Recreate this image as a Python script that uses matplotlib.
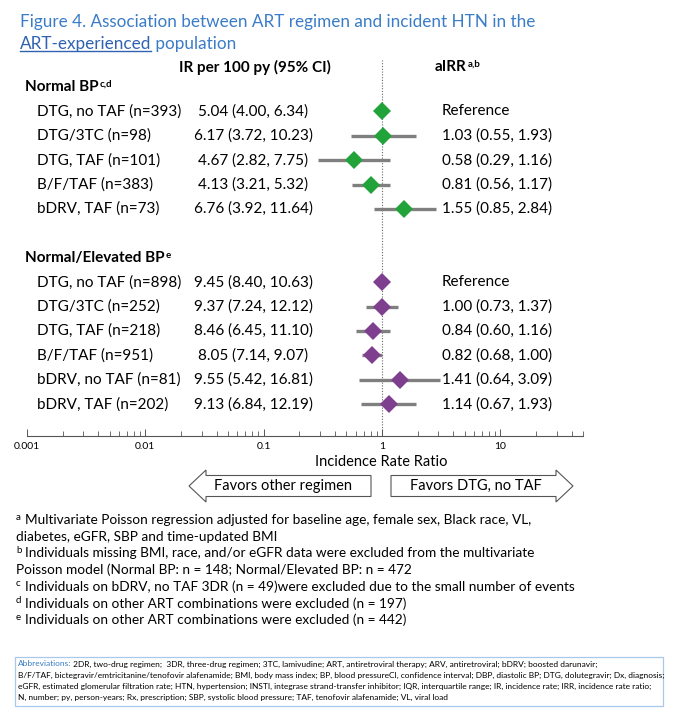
import matplotlib
matplotlib.use("Agg")
import matplotlib.pyplot as plt
from matplotlib.patches import Polygon, Rectangle
from matplotlib.lines import Line2D

plt.rcParams['font.family'] = ['Lato', 'DejaVu Sans']

# ---- data ----
normal_labels = ["DTG, no TAF (n=393)", "DTG/3TC (n=98)", "DTG, TAF (n=101)",
                 "B/F/TAF (n=383)", "bDRV, TAF (n=73)"]
normal_ir = ["5.04 (4.00, 6.34)", "6.17 (3.72, 10.23)", "4.67 (2.82, 7.75)",
             "4.13 (3.21, 5.32)", "6.76 (3.92, 11.64)"]
normal_irr = [1.00, 1.03, 0.58, 0.81, 1.55]
normal_lo = [None, 0.55, 0.29, 0.56, 0.85]
normal_hi = [None, 1.93, 1.16, 1.17, 2.84]

elev_labels = ["DTG, no TAF (n=898)", "DTG/3TC (n=252)", "DTG, TAF (n=218)",
               "B/F/TAF (n=951)", "bDRV, no TAF (n=81)", "bDRV, TAF (n=202)"]
elev_ir = ["9.45 (8.40, 10.63)", "9.37 (7.24, 12.12)", "8.46 (6.45, 11.10)",
           "8.05 (7.14, 9.07)", "9.55 (5.42, 16.81)", "9.13 (6.84, 12.19)"]
elev_irr = [1.00, 1.00, 0.84, 0.82, 1.41, 1.14]
elev_lo = [None, 0.73, 0.60, 0.68, 0.64, 0.67]
elev_hi = [None, 1.37, 1.16, 1.00, 3.09, 1.93]

ticks = [0.001, 0.01, 0.1, 1, 10]
tick_labels = ["0.001", "0.01", "0.1", "1", "10"]

footnotes = [
    ("a", "Multivariate Poisson regression adjusted for baseline age, female sex, Black race, VL,"),
    ("", "diabetes, eGFR, SBP and time-updated BMI"),
    ("b", "Individuals missing BMI, race, and/or eGFR data were excluded from the multivariate"),
    ("", "Poisson model (Normal BP: n = 148; Normal/Elevated BP: n = 472"),
    ("c", "Individuals on bDRV, no TAF 3DR (n = 49)were excluded due to the small number of events"),
    ("d", "Individuals on other ART combinations were excluded (n = 197)"),
    ("e", "Individuals on other ART combinations were excluded (n = 442)"),
]

abbrev_lines = [
    "2DR, two-drug regimen;  3DR, three-drug regimen; 3TC, lamivudine; ART, antiretroviral therapy; ARV, antiretroviral; bDRV; boosted darunavir;",
    "B/F/TAF, bictegravir/emtricitanine/tenofovir alafenamide; BMI, body mass index; BP, blood pressureCI, confidence interval; DBP, diastolic BP; DTG, dolutegravir; Dx, diagnosis;",
    "eGFR, estimated glomerular filtration rate; HTN, hypertension; INSTI, integrase strand-transfer inhibitor; IQR, interquartile range; IR, incidence rate; IRR, incidence rate ratio;",
    "N, number; py, person-years; Rx, prescription; SBP, systolic blood pressure; TAF, tenofovir alafenamide; VL, viral load",
]

GREEN = "#22a33a"
PURPLE = "#7e3f8f"
GREY = "#7f7f7f"
BLUE = "#3a7cc7"

W, H = 693, 713
fig = plt.figure(figsize=(W / 100, H / 100), dpi=100)


def fx(x):
    return x / W


def fy(y):
    return 1 - y / H


def ptext(x, y, s, **kw):
    kw.setdefault("va", "center")
    return fig.text(fx(x), fy(y), s, **kw)


# axis area in pixel units (y counted from the top)
ax_left, ax_right, ax_top, ax_bot = 27, 583, 60, 436
ax = fig.add_axes([fx(ax_left), fy(ax_bot), fx(ax_right - ax_left), (ax_bot - ax_top) / H])
ax.set_xscale("log")
ax.set_xlim(0.001, 50)
ax.set_ylim(ax_bot, ax_top)
for s in ["top", "left", "right"]:
    ax.spines[s].set_visible(False)
ax.spines["bottom"].set_color("#555555")
ax.spines["bottom"].set_linewidth(0.8)
ax.set_yticks([])
ax.set_xticks(ticks)
ax.set_xticklabels(tick_labels, fontsize=7.5)
ax.tick_params(axis="x", which="major", direction="in", length=5, width=0.7, color="#555555", pad=4)
ax.tick_params(axis="x", which="minor", direction="in", length=3.5, width=0.6, color="#555555")
ax.patch.set_alpha(0)
ax.axvline(1, ls=(0, (1, 1.5)), color="#666666", lw=0.8, zorder=1)

row0, step = 87, 24.4
groups = [
    ("Normal BP", "c,d", 0, normal_labels, normal_ir, normal_irr, normal_lo, normal_hi, GREEN),
    ("Normal/Elevated BP", "e", 7, elev_labels, elev_ir, elev_irr, elev_lo, elev_hi, PURPLE),
]
fs = 11
for title, sup, slot, labels, irs, irr, lo, hi, col in groups:
    yh = row0 + slot * step
    t = ptext(25, yh, title, fontsize=fs, fontweight="bold")
    ax.annotate(sup, xy=(1, 1), xycoords=t, xytext=(0.5, 0), textcoords="offset points",
                fontsize=7, fontweight="bold", va="top", ha="left")
    ys = [yh + (i + 1) * step for i in range(len(labels))]
    for i, y in enumerate(ys):
        ptext(37, y, labels[i], fontsize=fs)
        ptext(253, y, irs[i], fontsize=fs, ha="center")
        if lo[i] is None:
            ptext(442, y, "Reference", fontsize=fs)
        else:
            ptext(442, y, f"{irr[i]:.2f} ({lo[i]:.2f}, {hi[i]:.2f})", fontsize=fs)
            ax.hlines(y, lo[i], hi[i], color=GREY, lw=2.4, zorder=2)
    ax.plot(irr, ys, "D", color=col, markersize=9.5, markeredgewidth=0, zorder=3)

# column headers
ptext(255, 67, "IR per 100 py (95% CI)", fontsize=11, fontweight="bold", ha="center")
h2 = ptext(435, 67, "aIRR", fontsize=11, fontweight="bold")
ax.annotate("a,b", xy=(1, 1), xycoords=h2, xytext=(0.5, 0), textcoords="offset points",
            fontsize=7, fontweight="bold", va="top", ha="left")

ptext(381, 462, "Incidence Rate Ratio", fontsize=10.5, ha="center")

# title
ptext(20, 22, "Figure 4. Association between ART regimen and incident HTN in the",
      fontsize=12.3, color=BLUE)
t2 = ptext(20, 44, "ART-experienced", fontsize=12.3, color="#2f62b0")
ax.annotate(" population", xy=(1, 0.5), xycoords=t2, fontsize=12.3, color=BLUE,
            va="center", ha="left")
fig.canvas.draw()
bb = t2.get_window_extent(fig.canvas.get_renderer())
fig.add_artist(Line2D([bb.x0 / W, bb.x1 / W], [(bb.y0 + 1) / H, (bb.y0 + 1) / H],
                      transform=fig.transFigure, color="#2f62b0", lw=1.0))

# favour arrows
yc, hb, hh = 486, 10.5, 16
left_pts = [(189, yc), (206, yc - hh), (206, yc - hb), (371, yc - hb),
            (371, yc + hb), (206, yc + hb), (206, yc + hh)]
right_pts = [(573, yc), (556, yc - hh), (556, yc - hb), (391, yc - hb),
             (391, yc + hb), (556, yc + hb), (556, yc + hh)]
for pts in (left_pts, right_pts):
    fig.add_artist(Polygon([(fx(x), fy(y)) for x, y in pts], closed=True,
                           transform=fig.transFigure, facecolor="white",
                           edgecolor="#555555", lw=0.8))
ptext(283, yc, "Favors other regimen", fontsize=10.5, ha="center")
ptext(476, yc, "Favors DTG, no TAF", fontsize=10.5, ha="center")

# footnotes
fy0, fstep = 520, 16.7
for i, (letter, text) in enumerate(footnotes):
    y = fy0 + i * fstep
    if letter:
        ptext(16, y - 3, letter, fontsize=7)
    ptext(25 if letter else 16, y, text, fontsize=9.85)

# abbreviations box
fig.add_artist(Rectangle((fx(15), fy(706)), fx(663 - 15), (706 - 657) / H,
                         transform=fig.transFigure, facecolor="none",
                         edgecolor="#a9c8ea", lw=0.9))
ab = ptext(18, 664, "Abbreviations:", fontsize=6, color=BLUE)
ax.annotate(" " + abbrev_lines[0], xy=(1, 0.5), xycoords=ab, fontsize=6,
            va="center", ha="left")
for i, line in enumerate(abbrev_lines[1:]):
    ptext(18, 675 + i * 11, line, fontsize=6)

fig.savefig("out.png", dpi=100)
